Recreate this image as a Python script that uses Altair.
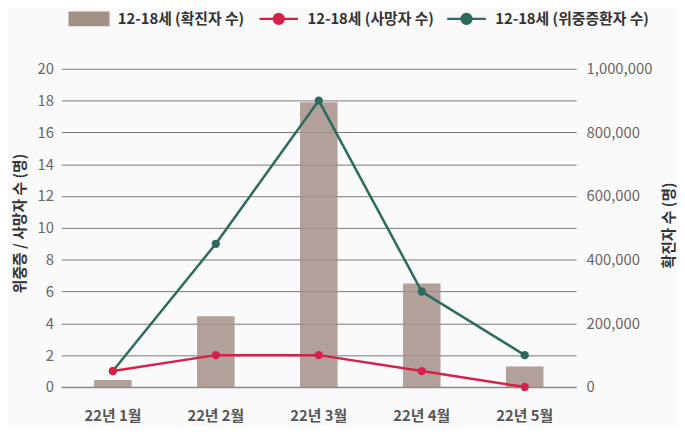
import altair as alt
import pandas as pd

months = ["22년 1월", "22년 2월", "22년 3월", "22년 4월", "22년 5월"]
confirmed = [22000, 222000, 895000, 325000, 64000]
deaths = [1, 2, 2, 1, 0]
severe = [1, 9, 18, 6, 2]

name_conf = "12-18세 (확진자 수)"
name_death = "12-18세 (사망자 수)"
name_severe = "12-18세 (위중증환자 수)"

c_bar = "#a39188"
c_red = "#d6204a"
c_green = "#2b6a5c"

FONT = "Noto Sans CJK KR"

df_bar = pd.DataFrame({"month": months, "value": confirmed, "series": name_conf})
df_death = pd.DataFrame({"month": months, "value": deaths, "series": name_death})
df_severe = pd.DataFrame({"month": months, "value": severe, "series": name_severe})

rect_path = "M-2.44,-0.79H2.44V0.79H-2.44Z"
line_path = "M-2.44,0H2.44M-0.62,0A0.62,0.62,0,1,1,0.62,0A0.62,0.62,0,1,1,-0.62,0"

x_enc = alt.X(
    "month:N",
    sort=months,
    scale=alt.Scale(paddingInner=0, paddingOuter=0),
    axis=alt.Axis(
        title=None, labelAngle=0, ticks=False, labelPadding=34,
        labelBaseline="alphabetic",
        labelFontSize=15, labelColor="#555", labelFontWeight=600,
        domainColor="#8a8a8a", domainWidth=1.5, grid=False,
    ),
)

left_scale = alt.Scale(domain=[0, 20], nice=False)
left_axis = alt.Axis(
    title="위중증 / 사망자 수 (명)", orient="left", values=list(range(0, 21, 2)),
    domain=False, ticks=False, labelPadding=8, labelFontSize=15, labelColor="#666",
    titleFontSize=15, titleColor="#333", titleFontWeight="bold",
    titleX=-42, titleY=156, titleBaseline="middle", titleAngle=270,
    grid=True, gridColor="#777", gridWidth=1,
)


def legend_for(color, path, lx):
    return alt.Legend(
        title=None, orient="none", legendX=lx, legendY=-60, padding=0,
        symbolType=path, symbolSize=256, symbolFillColor=color,
        symbolStrokeColor=color, symbolStrokeWidth=2.5, symbolOpacity=1,
        labelFontSize=15, labelColor="#333", labelFontWeight=600, labelOffset=19.5,
        labelLimit=0,
    )


bars = alt.Chart(df_bar).mark_bar(size=38, opacity=0.85).encode(
    x=x_enc,
    y=alt.Y(
        "value:Q",
        scale=alt.Scale(domain=[0, 1000000], nice=False),
        axis=alt.Axis(
            title="확진자 수 (명)", orient="right", values=list(range(0, 1000001, 200000)),
            format=",.0f", domain=False, ticks=False, grid=False, labelPadding=10,
            labelFontSize=15, labelColor="#666", titleFontSize=15, titleColor="#333",
            titleFontWeight="bold", titleAngle=270, titleX=93.5, titleY=158,
            titleBaseline="middle",
        ),
    ),
    color=alt.Color(
        "series:N", scale=alt.Scale(domain=[name_conf], range=[c_bar]),
        legend=legend_for(c_bar, rect_path, 18.5),
    ),
)


def series_layers(df, color, name, lx, show_axis):
    yenc = alt.Y("value:Q", scale=left_scale, axis=left_axis if show_axis else None)
    line = alt.Chart(df).mark_line(strokeWidth=2.5, color=color).encode(x=x_enc, y=yenc)
    pts = alt.Chart(df).mark_circle(size=70, opacity=1).encode(
        x=x_enc,
        y=alt.Y("value:Q", scale=left_scale, axis=None),
        color=alt.Color(
            "series:N", scale=alt.Scale(domain=[name], range=[color]),
            legend=legend_for(color, line_path, lx),
        ),
    )
    return line, pts


g_line, g_pts = series_layers(df_severe, c_green, name_severe, 400.5, True)
r_line, r_pts = series_layers(df_death, c_red, name_death, 210.5, False)

chart = (
    alt.layer(bars, g_line, g_pts, r_line, r_pts)
    .resolve_scale(y="independent", color="independent")
    .properties(
        width=521, height=322,
        autosize=alt.AutoSizeParams(type="none"),
        padding={"left": 54, "top": 59, "right": 102, "bottom": 38},
        background="#fafafa",
    )
    .configure(font=FONT)
    .configure_view(stroke=None)
)

chart.save("out.html", embed_options={"renderer": "svg", "actions": False})
